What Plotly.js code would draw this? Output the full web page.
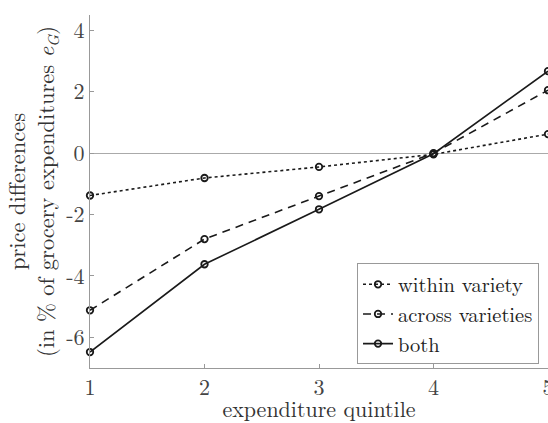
<!DOCTYPE html>
<html>
<head>
<meta charset="utf-8">
<script src="https://cdn.plot.ly/plotly-3.0.1.min.js"></script>
<style>html,body{margin:0;padding:0;background:#fff;}#chart{width:548px;height:423px;}</style>
</head>
<body>
<div id="chart"></div>
<script>
const quintiles = [1, 2, 3, 4, 5];
const withinVariety = [-1.38, -0.81, -0.45, -0.04, 0.62];
const acrossVarieties = [-5.12, -2.80, -1.40, 0.0, 2.05];
const both = [-6.48, -3.62, -1.83, -0.02, 2.67];
const seriesNames = ['within variety', 'across varieties', 'both'];
const yTicks = [-6, -4, -2, 0, 2, 4];
const yTickLabels = ['-6', '-4', '-2', '0', '2', '4'];

const font = 'Latin Modern Roman, CMU Serif, DejaVu Serif, serif';
const lineColor = '#1a1a1a';

function trace(y, name, dash) {
  return {
    x: quintiles, y: y, name: name, type: 'scatter', mode: 'lines+markers',
    line: {color: lineColor, width: 1.6, dash: dash},
    marker: {symbol: 'circle-open', size: 6.5, color: lineColor, line: {width: 1.8, color: lineColor}},
    cliponaxis: false
  };
}

const data = [
  trace(withinVariety, seriesNames[0], 'dot'),
  trace(acrossVarieties, seriesNames[1], '8px,6px'),
  trace(both, seriesNames[2], 'solid')
];

const layout = {
  width: 548, height: 423,
  margin: {l: 90, r: 0, t: 15, b: 55},
  paper_bgcolor: '#fff', plot_bgcolor: '#fff',
  font: {family: font, size: 22, color: '#333'},
  showlegend: true,
  legend: {
    x: 0.583, y: 0.01, xanchor: 'left', yanchor: 'bottom',
    bgcolor: '#fff', bordercolor: '#999', borderwidth: 1,
    font: {family: font, size: 20.5, color: '#222'},
    itemwidth: 30, tracegroupgap: 0
  },
  xaxis: {
    range: [1, 5], tickvals: quintiles, ticktext: quintiles.map(String),
    showgrid: false, zeroline: false, showline: true, linecolor: '#999', linewidth: 1,
    ticks: 'inside', ticklen: 4, tickcolor: '#999', ticklabeloverflow: 'allow',
    tickfont: {family: font, size: 22, color: '#444'},
    title: {text: 'expenditure quintile', font: {family: font, size: 22, color: '#333'}, standoff: 0}
  },
  yaxis: {
    range: [-7, 4.5], tickvals: yTicks, ticktext: yTickLabels,
    showgrid: false, zeroline: true, zerolinecolor: '#aaa', zerolinewidth: 1,
    showline: true, linecolor: '#999', linewidth: 1,
    ticks: 'inside', ticklen: 4, tickcolor: '#999',
    tickfont: {family: font, size: 22, color: '#444'},
    title: {text: 'price differences<br>(in % of grocery expenditures <i>e</i><sub><i>G</i></sub>)', font: {family: font, size: 22.5, color: '#333'}, standoff: 5}
  }
};

Plotly.newPlot('chart', data, layout, {staticPlot: true, displayModeBar: false});
</script>
</body>
</html>
